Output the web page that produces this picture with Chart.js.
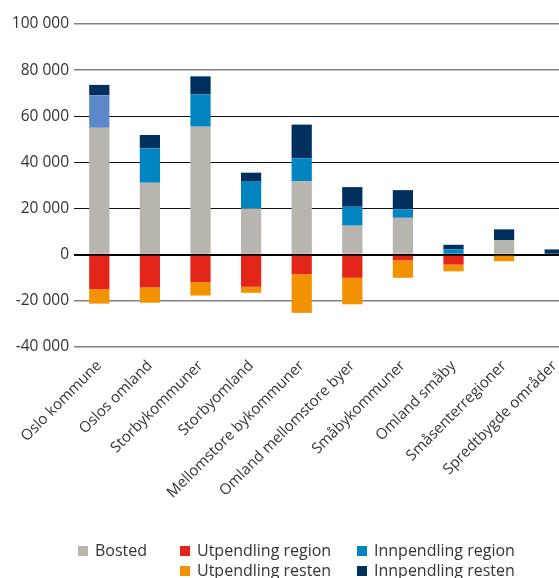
<!DOCTYPE html>
<html>
<head>
<meta charset="utf-8">
<script src="https://cdn.jsdelivr.net/npm/chart.js@4/dist/chart.umd.min.js"></script>
<style>
    html, body { margin: 0; padding: 0; background: #fff; overflow: hidden; }
    #wrap { position: relative; width: 559px; height: 578px; overflow: hidden; }
    #chart { position: absolute; left: 0; top: 0; }
    .legend-item { position: absolute; font: 16px "Open Sans", sans-serif; color: #333; white-space: nowrap; line-height: 20px; }
    .legend-item span.box { display: inline-block; width: 10px; height: 10px; margin-right: 7px; }
</style>
</head>
<body>
<div id="wrap">
    <canvas id="chart" width="580" height="578" style="width:580px;height:578px"></canvas>
</div>
<script>
const categories = ['Oslo kommune', 'Oslos omland', 'Storbykommuner', 'Storbyomland', 'Mellomstore bykommuner',
    'Omland mellomstore byer', 'Småbykommuner', 'Omland småby', 'Småsenterregioner', 'Spredtbygde områder'];

const bosted = [55000, 31200, 55500, 20000, 31800, 12600, 16000, 0, 6300, 0];
const innpendlingRegion = [14100, 14900, 14000, 11650, 10000, 8200, 3600, 2300, 0, 0];
const innpendlingResten = [4500, 5800, 7800, 3900, 14600, 8500, 8400, 2000, 4700, 2300];
const utpendlingRegion = [-15000, -14200, -12000, -13900, -8400, -10000, -2500, -4300, 0, 0];
const utpendlingResten = [-6200, -6600, -5700, -2600, -16800, -11500, -7500, -2900, -2800, -400];

const yTicks = [-40000, -20000, 0, 20000, 40000, 60000, 80000, 100000];

const COLORS = {
    bosted: '#b8b4ae',
    utRegion: '#e32619',
    innRegion: '#0085c0',
    innRegionOslo: '#5b88c8',
    utResten: '#f39200',
    innResten: '#00305e'
};

function formatNumber(v) {
    const s = String(Math.abs(v)).replace(/\B(?=(\d{3})+(?!\d))/g, ' ');
    return (v < 0 ? '-' : '') + s;
}

// Oslo kommune has a lighter blue for regional in-commuting
const innRegionColors = categories.map((c, i) => i === 0 ? COLORS.innRegionOslo : COLORS.innRegion);

const barOpts = { barPercentage: 0.4, categoryPercentage: 1, borderWidth: 0 };

const datasets = [
    { label: 'Bosted', data: bosted, backgroundColor: COLORS.bosted, ...barOpts },
    { label: 'Innpendling region', data: innpendlingRegion, backgroundColor: innRegionColors, ...barOpts },
    { label: 'Innpendling resten', data: innpendlingResten, backgroundColor: COLORS.innResten, ...barOpts },
    { label: 'Utpendling region', data: utpendlingRegion, backgroundColor: COLORS.utRegion, ...barOpts },
    { label: 'Utpendling resten', data: utpendlingResten, backgroundColor: COLORS.utResten, ...barOpts }
];

new Chart(document.getElementById('chart'), {
    type: 'bar',
    data: { labels: categories, datasets },
    options: {
        responsive: false,
        animation: false,
        layout: { padding: { top: 24, left: 0, right: 0, bottom: 0 } },
        plugins: { legend: { display: false }, tooltip: { enabled: false } },
        scales: {
            x: {
                stacked: true,
                grid: { display: false },
                border: { display: false },
                ticks: {
                    autoSkip: false,
                    maxRotation: 45,
                    minRotation: 45,
                    padding: 2,
                    color: '#333',
                    font: { family: 'Open Sans', size: 15 }
                },
                afterFit: (scale) => { scale.height = 578 - 347; }
            },
            y: {
                stacked: true,
                min: -40000,
                max: 100000,
                afterBuildTicks: (scale) => { scale.ticks = yTicks.map(v => ({ value: v })); },
                border: { display: false },
                grid: {
                    drawTicks: false,
                    color: (ctx) => {
                        const v = ctx.tick ? ctx.tick.value : 0;
                        if (v === 0) return '#000';
                        if (v >= 20000 && v <= 60000) return '#111';
                        return '#808080';
                    },
                    lineWidth: (ctx) => {
                        const v = ctx.tick ? ctx.tick.value : 0;
                        if (v === 0) return 2;
                        if (v >= 20000 && v <= 60000) return 1;
                        return 1.6;
                    }
                },
                ticks: {
                    padding: 5,
                    color: '#333',
                    font: { family: 'Open Sans', size: 15.5 },
                    callback: (v) => formatNumber(v)
                },
                afterFit: (scale) => { scale.width = 74; }
            }
        }
    }
});

// Legend, laid out in the same 3-column grid as the reference
const legendItems = [
    { label: 'Bosted', color: COLORS.bosted, x: 78, y: 540 },
    { label: 'Utpendling region', color: COLORS.utRegion, x: 180, y: 540 },
    { label: 'Innpendling region', color: COLORS.innRegion, x: 357, y: 540 },
    { label: 'Utpendling resten', color: COLORS.utResten, x: 180, y: 560 },
    { label: 'Innpendling resten', color: COLORS.innResten, x: 357, y: 560 }
];
const wrap = document.getElementById('wrap');
legendItems.forEach(item => {
    const el = document.createElement('div');
    el.className = 'legend-item';
    el.style.left = item.x + 'px';
    el.style.top = item.y + 'px';
    el.innerHTML = `<span class="box" style="background:${item.color}"></span>${item.label}`;
    wrap.appendChild(el);
});
</script>
</body>
</html>
